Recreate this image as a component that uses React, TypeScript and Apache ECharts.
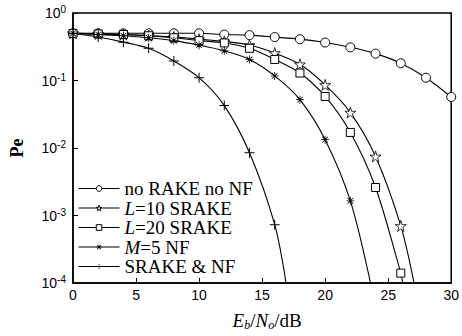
import React, { useEffect, useRef } from "react";
import * as echarts from "echarts";

const xNoRake = [0, 2, 4, 6, 8, 10, 12, 14, 16, 18, 20, 22, 24, 26, 28, 30];
const yNoRake = [0.5, 0.5, 0.5, 0.5, 0.5, 0.5, 0.48, 0.47, 0.44, 0.41, 0.365, 0.31, 0.25, 0.18, 0.11, 0.057];

const xL10 = [0, 2, 4, 6, 8, 10, 12, 14, 16, 18, 20, 22, 24, 26, 27.05];
const yL10 = [0.5, 0.49, 0.48, 0.46, 0.44, 0.41, 0.38, 0.335, 0.255, 0.174, 0.086, 0.0335, 0.0075, 0.0007, 0.0001];

const xL20 = [0, 2, 4, 6, 8, 10, 12, 14, 16, 18, 20, 22, 24, 26, 26.15];
const yL20 = [0.5, 0.49, 0.48, 0.46, 0.43, 0.39, 0.36, 0.3, 0.205, 0.129, 0.058, 0.017, 0.0026, 0.00014, 0.0001];

const xM5 = [0, 2, 4, 6, 8, 10, 12, 14, 16, 18, 20, 22, 23.6];
const yM5 = [0.5, 0.48, 0.46, 0.43, 0.39, 0.334, 0.275, 0.205, 0.117, 0.052, 0.0133, 0.00165, 0.0001];

const xSN = [0, 2, 4, 6, 8, 10, 12, 14, 16, 16.9];
const ySN = [0.5, 0.44, 0.37, 0.3, 0.195, 0.11, 0.0425, 0.0085, 0.00073, 0.0001];

const seriesNames = ["no RAKE no NF", "L=10 SRAKE", "L=20 SRAKE", "M=5 NF", "SRAKE & NF"];
const xTicks = [0, 5, 10, 15, 20, 25, 30];

const STAR = "path://M50,0 L61,35 98,35 68,57 79,91 50,70 21,91 32,57 2,35 39,35Z";
const PLUS = "path://M9,0H11V9H20V11H11V20H9V11H0V9H9Z";
const ASTER =
  "path://M9,0H11V9H20V11H11V20H9V11H0V9H9Z M3.6,2.2L10,8.6L16.4,2.2L17.8,3.6L11.4,10L17.8,16.4L16.4,17.8L10,11.4L3.6,17.8L2.2,16.4L8.6,10L2.2,3.6Z";

function mk(xs: number[], ys: number[]) {
  return xs.map((x, i) => {
    const isEnd = xs[i] % 2 !== 0;
    return isEnd ? { value: [x, ys[i]], symbol: "none" } : { value: [x, ys[i]] };
  });
}

export default function App() {
  const ref = useRef<HTMLDivElement>(null);
  useEffect(() => {
    if (!ref.current) return;
    const chart = echarts.init(ref.current, null, { renderer: "svg" });
    const black = "#000";
    const baseLine = { color: black, width: 1.1 };
    const styles = [
      { color: "#fff", borderColor: black, borderWidth: 1 },
      { color: "#fff", borderColor: black, borderWidth: 0.8 },
      { color: "#fff", borderColor: black, borderWidth: 1 },
      { color: black },
      { color: black },
    ];
    const symbols = ["circle", STAR, "rect", ASTER, PLUS];
    const sizes = [9, 11, 8, 8, 10];
    const data = [
      mk(xNoRake, yNoRake),
      mk(xL10, yL10),
      mk(xL20, yL20),
      mk(xM5, yM5),
      mk(xSN, ySN),
    ];
    const series: any[] = seriesNames.map((n, i) => ({
      name: n,
      type: "line",
      smooth: 0.3,
      data: data[i],
      symbol: symbols[i],
      symbolSize: sizes[i],
      lineStyle: baseLine,
      itemStyle: styles[i],
    }));
    chart.setOption({
      animation: false,
      backgroundColor: "#fff",
      grid: {
        left: 66,
        right: 4,
        top: 13,
        bottom: 40,
        show: true,
        borderColor: black,
        borderWidth: 1.5,
        backgroundColor: "transparent",
      },
      legend: {
        orient: "vertical",
        left: 73,
        top: 174,
        itemWidth: 41,
        itemHeight: 7,
        itemGap: 0.5,
        data: seriesNames.map((n, i) => ({
          name: n,
          itemStyle: i < 3 ? { color: "#fff", borderColor: black, borderWidth: 1 } : { color: black },
          lineStyle: { color: black, width: 1.1 },
        })),
        textStyle: {
          fontFamily: "Liberation Serif",
          fontSize: 19,
          color: black,
          rich: {
            i: { fontFamily: "Liberation Serif", fontSize: 19, fontStyle: "italic", color: black },
            n: { fontFamily: "Liberation Serif", fontSize: 19, color: black },
          },
        },
        formatter: (name: string) => {
          if (name.startsWith("L=")) return "{i|L}{n|" + name.slice(1) + "}";
          if (name.startsWith("M=")) return "{i|M}{n|" + name.slice(1) + "}";
          return "{n|" + name + "}";
        },
      },
      xAxis: {
        type: "value",
        min: 0,
        max: 30,
        interval: 5,
        splitLine: { show: false },
        axisLine: { lineStyle: { color: black, width: 1.5 } },
        axisTick: { inside: true, length: 5, lineStyle: { color: black } },
        axisLabel: {
          color: black,
          fontFamily: "Liberation Sans",
          fontSize: 14,
          margin: 5,
          formatter: (v: number) => (xTicks.includes(v) ? String(v) : ""),
        },
        name: "{i|E}{sub|b}{n|/}{i|N}{sub|o}{n|/dB}",
        nameLocation: "middle",
        nameGap: 27,
        nameTextStyle: {
          padding: [0, 0, 0, 10],
          rich: {
            i: { fontFamily: "Liberation Serif", fontSize: 19, fontStyle: "italic", color: black },
            n: { fontFamily: "Liberation Serif", fontSize: 19, color: black },
            sub: {
              fontFamily: "Liberation Serif",
              fontSize: 12,
              fontStyle: "italic",
              color: black,
              padding: [9, 0, 0, 0],
            },
          },
        },
      },
      yAxis: {
        type: "log",
        logBase: 10,
        min: 0.0001,
        max: 1,
        splitLine: { show: false },
        minorTick: { show: false },
        axisLine: { lineStyle: { color: black, width: 1.5 } },
        axisTick: { inside: true, length: 5, lineStyle: { color: black } },
        axisLabel: {
          color: black,
          margin: 7,
          formatter: (v: number) => {
            const e = Math.round(Math.log10(v));
            return "{b|10}{s|" + e + "}";
          },
          rich: {
            b: { fontFamily: "Liberation Sans", fontSize: 14, color: black },
            s: {
              fontFamily: "Liberation Sans",
              fontSize: 10,
              color: black,
              padding: [0, 0, 7, 0],
            },
          },
        },
        name: "Pe",
        nameLocation: "middle",
        nameRotate: 90,
        nameGap: 47,
        nameTextStyle: {
          fontFamily: "Liberation Serif",
          fontSize: 18,
          fontWeight: "bold",
          color: black,
        },
      },
      series,
    });
    return () => chart.dispose();
  }, []);
  return (
    <div
      ref={ref}
      style={{ position: "fixed", left: 0, top: 0, width: 462, height: 336 }}
    />
  );
}
